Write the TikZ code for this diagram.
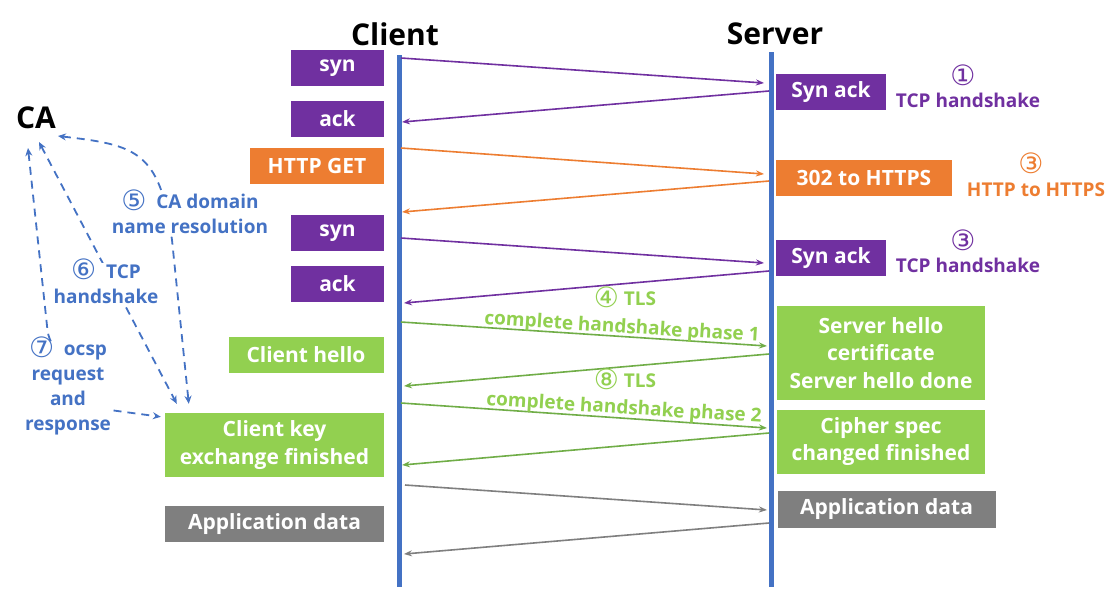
\documentclass[tikz,border=0pt]{standalone}
\usepackage{fontspec}
\setmainfont{Open Sans}
\newfontfamily\circfont{DejaVu Sans}
\usetikzlibrary{arrows.meta}
\definecolor{cpurple}{HTML}{7030A0}
\definecolor{corange}{HTML}{ED7D31}
\definecolor{cgreen}{HTML}{92D050}
\definecolor{cgreenline}{HTML}{70AD47}
\definecolor{cgray}{HTML}{7F7F7F}
\definecolor{cblue}{HTML}{4472C4}
\newcommand{\cnum}[1]{{\circfont\mdseries\fontsize{28}{28}\selectfont #1}}
\newcommand{\cnums}[1]{\smash{\raisebox{-1.5pt}{\circfont\mdseries\fontsize{28}{28}\selectfont #1}}}
\begin{document}
\begin{tikzpicture}[x=1pt,y=-1pt,
  box/.style={inner sep=0pt, text=white, align=center,
    font=\fontsize{21}{27.5}\selectfont\bfseries},
  pbox/.style={box, fill=cpurple},
  obox/.style={box, fill=corange},
  gbox/.style={box, fill=cgreen},
  graybox/.style={box, fill=cgray},
  head/.style={font=\fontsize{30}{34}\selectfont\bfseries},
  lifeline/.style={draw=cblue, line width=5pt},
  msg/.style={line width=1.6pt, -{Stealth[length=8pt,width=6pt]}},
  lbl/.style={font=\fontsize{19}{25}\selectfont\bfseries, align=center, inner sep=0pt},
  blbl/.style={lbl, text=cblue, fill=white, inner sep=2pt},
  caline/.style={draw=cblue, line width=1.8pt, dash pattern=on 8pt off 6pt,
    {Stealth[length=8pt,width=7pt]}-{Stealth[length=8pt,width=7pt]}}
]
\useasboundingbox[fill=white] (0,0) rectangle (1108,614);

% headings
\node[head] (client) at (395,34) {Client};
\node[head] (server) at (775,34) {Server};
\node[head] (ca) at (36,118) {CA};

% lifelines
\coordinate (cTop) at (399,55);
\coordinate (cBot) at (399,587);
\coordinate (sTop) at (771,52);
\coordinate (sBot) at (771,587);
\draw[lifeline] (cTop) -- (cBot);
\draw[lifeline] (sTop) -- (sBot);

% client side boxes
\node[pbox, minimum width=93pt, minimum height=36pt] (syn1) at (337.5,68) {syn};
\node[pbox, minimum width=93pt, minimum height=36pt] (ack1) at (337.5,119) {ack};
\node[obox, minimum width=134pt, minimum height=36pt] (get) at (317,166) {HTTP GET};
\node[pbox, minimum width=93pt, minimum height=36pt] (syn2) at (337.5,233) {syn};
\node[pbox, minimum width=93pt, minimum height=36pt] (ack2) at (337.5,284) {ack};
\node[gbox, minimum width=155pt, minimum height=36pt] (chello) at (306,354.5) {Client hello};
\node[gbox, minimum width=219pt, minimum height=64pt] (ckey) at (274.5,445) {Client key\\exchange finished};
\node[graybox, minimum width=219pt, minimum height=36pt] (appL) at (274.5,524) {Application data};

% server side boxes
\node[pbox, minimum width=110pt, minimum height=36pt] (synack1) at (831,92) {Syn ack};
\node[obox, minimum width=176pt, minimum height=36pt] (r302) at (864,178) {302 to HTTPS};
\node[pbox, minimum width=110pt, minimum height=36pt] (synack2) at (831,258) {Syn ack};
\node[gbox, minimum width=208pt, minimum height=94pt] (shello) at (881,353) {Server hello\\certificate\\Server hello done};
\node[gbox, minimum width=208pt, minimum height=64pt] (cipher) at (881,441.5) {Cipher spec\\changed finished};
\node[graybox, minimum width=218pt, minimum height=37pt] (appR) at (886.5,509) {Application data};

% message end points
\coordinate (m1a) at (401,58);   \coordinate (m1b) at (764,83);
\coordinate (m2a) at (769,91);   \coordinate (m2b) at (402,122);
\coordinate (m3a) at (401,148);  \coordinate (m3b) at (764,174);
\coordinate (m4a) at (769,181);  \coordinate (m4b) at (402,212);
\coordinate (m5a) at (401,238);  \coordinate (m5b) at (764,263);
\coordinate (m6a) at (769,271);  \coordinate (m6b) at (404,303);
\coordinate (m7a) at (401,322);  \coordinate (m7b) at (767,346);
\coordinate (m8a) at (769,354);  \coordinate (m8b) at (404,386);
\coordinate (m9a) at (401,403);  \coordinate (m9b) at (767,428);
\coordinate (m10a) at (769,433); \coordinate (m10b) at (402,465);
\coordinate (m11a) at (405,485); \coordinate (m11b) at (767,510);
\coordinate (m12a) at (769,523); \coordinate (m12b) at (404,554);

\draw[msg, cpurple] (m1a) -- (m1b);
\draw[msg, cpurple] (m2a) -- (m2b);
\draw[msg, corange] (m3a) -- (m3b);
\draw[msg, corange] (m4a) -- (m4b);
\draw[msg, cpurple] (m5a) -- (m5b);
\draw[msg, cpurple] (m6a) -- (m6b);
\draw[msg, cgreenline] (m7a) -- (m7b);
\draw[msg, cgreenline] (m8a) -- (m8b);
\draw[msg, cgreenline] (m9a) -- (m9b);
\draw[msg, cgreenline] (m10a) -- (m10b);
\draw[msg, cgray] (m11a) -- (m11b);
\draw[msg, cgray] (m12a) -- (m12b);

% TLS labels
\node[lbl, text=cgreen] (tls1) at (625,299) {\cnums{④}\ TLS};
\node[lbl, text=cgreen, rotate=-3.6] (ph1) at (622,328) {complete handshake phase 1};
\node[lbl, text=cgreen] (tls2) at (625,381) {\cnums{⑧}\ TLS};
\node[lbl, text=cgreen, rotate=-3.6] (ph2) at (624,409) {complete handshake phase 2};

% right labels
\node[lbl, text=cpurple] (n1) at (963,75) {\cnum{①}};
\node[lbl, text=cpurple] (t1) at (968,100) {TCP handshake};
\node[lbl, text=corange] (n2) at (1031,163) {\cnum{③}};
\node[lbl, text=corange] (t2) at (1036,190) {HTTP to HTTPS};
\node[lbl, text=cpurple] (n3) at (963,240) {\cnum{③}};
\node[lbl, text=cpurple] (t3) at (968,265) {TCP handshake};

% CA dashed connectors
\coordinate (ca5) at (58,136);
\coordinate (ca6) at (39,142);
\coordinate (ca7) at (28,148);
\coordinate (k5) at ([xshift=24pt,yshift=9pt]ckey.north west);
\coordinate (k6) at ([xshift=12pt,yshift=9pt]ckey.north west);
\coordinate (k7) at ([xshift=-4pt,yshift=-4pt]ckey.north west);
\draw[caline] (ca5) .. controls (135,145) and (160,150) .. (172,240) -- (k5);
\draw[caline] (ca6) -- (k6);
\draw[caline, rounded corners=4pt] (ca7) -- (48,335) -- (80,406) -- (k7);

% blue labels
\node[blbl] (l5) at (190,214) {\cnums{⑤}\ \ CA domain\\name resolution};
\node[blbl] (l6) at (106,284) {\cnums{⑥}\ \ TCP\\handshake};
\node[blbl] (l7) at (68,390) {\cnums{⑦}\ \ ocsp\\request\\and\\response};
\end{tikzpicture}
\end{document}
